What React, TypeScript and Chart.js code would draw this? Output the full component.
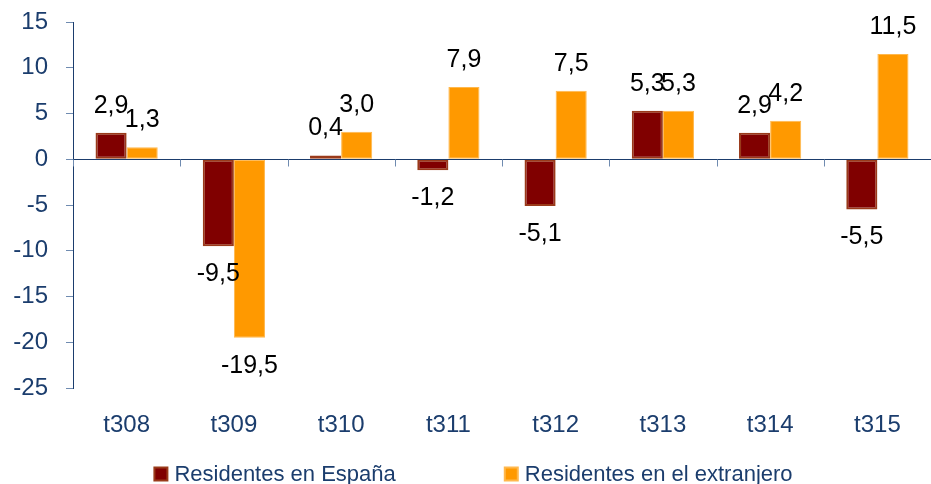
import React, { useEffect, useRef } from "react";
import { Chart, registerables } from "chart.js";

Chart.register(...registerables);

const categories = ["t308", "t309", "t310", "t311", "t312", "t313", "t314", "t315"];
const residentesEspana = [2.9, -9.5, 0.4, -1.2, -5.1, 5.3, 2.9, -5.5];
const residentesExtranjero = [1.3, -19.5, 3.0, 7.9, 7.5, 5.3, 4.2, 11.5];
const seriesLabels = ["Residentes en España", "Residentes en el extranjero"];
const yMin = -25;
const yMax = 15;
const yStep = 5;

const NAVY = "#1B3D6D";
const TICK_COLOR = "#6F8BB0";
const FONT = "'Liberation Sans', Arial, Helvetica, sans-serif";

const fmt = (v: number) => v.toFixed(1).replace(".", ",");

const customPlugin = {
  id: "customDraw",
  afterDatasetsDraw(chart: any) {
    const ctx = chart.ctx;
    const xs = chart.scales.x;
    const ys = chart.scales.y;
    const area = chart.chartArea;
    const y0 = Math.round(ys.getPixelForValue(0)) + 0.5;
    ctx.save();
    ctx.strokeStyle = NAVY;
    ctx.lineWidth = 1;
    ctx.beginPath();
    ctx.moveTo(area.left, y0);
    ctx.lineTo(area.right, y0);
    ctx.stroke();
    const n = categories.length;
    const w = (xs.right - xs.left) / n;
    ctx.strokeStyle = TICK_COLOR;
    ctx.beginPath();
    for (let i = 0; i <= n; i++) {
      const bx = Math.round(xs.left + i * w) + 0.5;
      ctx.moveTo(bx, y0);
      ctx.lineTo(bx, y0 + 7);
    }
    ctx.stroke();
    ctx.font = `25px ${FONT}`;
    ctx.textAlign = "center";
    ctx.textBaseline = "middle";
    ctx.fillStyle = "#000000";
    chart.data.datasets.forEach((ds: any, di: number) => {
      const meta = chart.getDatasetMeta(di);
      meta.data.forEach((bar: any, i: number) => {
        const v = ds.data[i] as number;
        const yy = v >= 0 ? bar.y - 27 : bar.y + 28;
        ctx.fillText(fmt(v), bar.x, yy);
      });
    });
    ctx.restore();
  },
  afterDraw(chart: any) {
    const ctx = chart.ctx;
    ctx.save();
    ctx.font = `22px ${FONT}`;
    ctx.textBaseline = "middle";
    ctx.textAlign = "left";
    const box = 15;
    const gapText = 6;
    const gapItems = 108;
    const items = chart.data.datasets.map((ds: any) => ({
      label: ds.label,
      fill: ds.backgroundColor,
      border: ds.borderColor,
      w: box + gapText + ctx.measureText(ds.label).width,
    }));
    const total = items.reduce((s: number, it: any) => s + it.w, 0) + gapItems * (items.length - 1);
    let x = 473 - total / 2;
    const yc = 474;
    items.forEach((it: any) => {
      ctx.fillStyle = it.border;
      ctx.fillRect(x, yc - box / 2, box, box);
      ctx.fillStyle = it.fill;
      ctx.fillRect(x + 2, yc - box / 2 + 2, box - 4, box - 4);
      ctx.fillStyle = NAVY;
      ctx.fillText(it.label, x + box + gapText, yc + 1);
      x += it.w + gapItems;
    });
    ctx.restore();
  },
};

export default function App() {
  const ref = useRef<HTMLCanvasElement | null>(null);
  useEffect(() => {
    if (!ref.current) return;
    const chart = new Chart(ref.current, {
      type: "bar",
      data: {
        labels: categories,
        datasets: [
          {
            label: seriesLabels[0],
            data: residentesEspana,
            backgroundColor: "#800000",
            borderColor: "#9A3A1A",
            borderWidth: 2,
            borderSkipped: false,
          },
          {
            label: seriesLabels[1],
            data: residentesExtranjero,
            backgroundColor: "#FF9900",
            borderColor: "#FFB84D",
            borderWidth: 1,
            borderSkipped: false,
          },
        ],
      },
      options: {
        responsive: false,
        animation: false,
        layout: { padding: { left: 0, right: 0, top: 22, bottom: 0 } },
        plugins: {
          legend: { display: false },
          tooltip: { enabled: false },
        },
        datasets: {
          bar: { categoryPercentage: 0.58, barPercentage: 1.0 },
        },
        scales: {
          x: {
            grid: { display: false },
            border: { display: false },
            ticks: {
              color: NAVY,
              font: { family: FONT, size: 24 },
              padding: 15,
            },
            afterFit: (scale: any) => {
              scale.height = 96;
            },
          },
          y: {
            min: yMin,
            max: yMax,
            ticks: {
              stepSize: yStep,
              color: NAVY,
              font: { family: FONT, size: 24 },
              padding: 18,
            },
            grid: {
              drawOnChartArea: false,
              drawTicks: true,
              tickLength: 7,
              color: TICK_COLOR,
            },
            border: { display: true, color: NAVY, width: 1 },
            afterFit: (scale: any) => {
              scale.width = 73;
              scale.paddingTop = 0;
              scale.paddingBottom = 0;
            },
          },
        },
      },
      plugins: [customPlugin],
    });
    return () => chart.destroy();
  }, []);
  return (
    <div style={{ position: "absolute", left: 0, top: 0, width: 931, height: 484 }}>
      <canvas ref={ref} width={931} height={484} style={{ display: "block" }} />
    </div>
  );
}
